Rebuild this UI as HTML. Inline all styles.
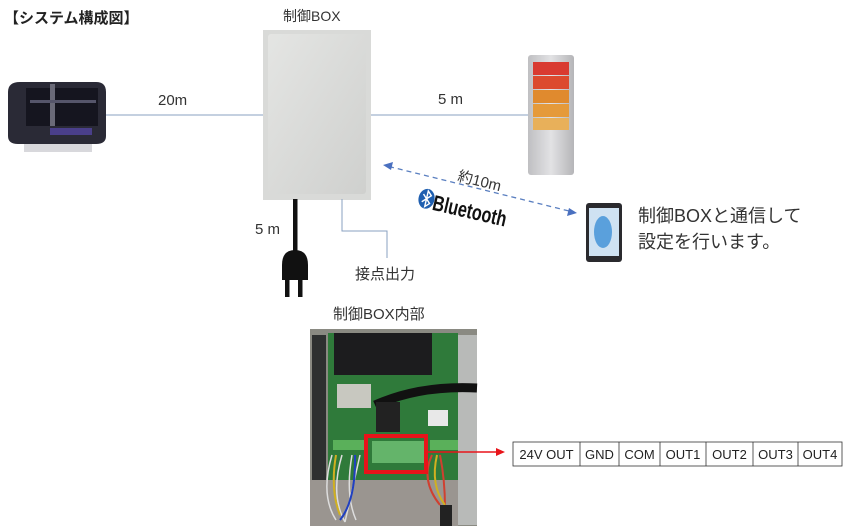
<!DOCTYPE html>
<html><head><meta charset="utf-8"><style>
body{margin:0;background:#fff;width:850px;height:526px;overflow:hidden;font-family:"Liberation Sans","Noto Sans CJK JP",sans-serif}
</style></head><body>
<svg width="850" height="526" viewBox="0 0 850 526" xmlns="http://www.w3.org/2000/svg" style="font-family:'Liberation Sans','Noto Sans CJK JP',sans-serif">
<defs>
<linearGradient id="box" x1="0" y1="0" x2="1" y2="1"><stop offset="0" stop-color="#e4e5e3"/><stop offset="1" stop-color="#cfd0ce"/></linearGradient>
<linearGradient id="tw" x1="0" y1="0" x2="1" y2="0"><stop offset="0" stop-color="#bfbfc2"/><stop offset=".5" stop-color="#e2e2e4"/><stop offset="1" stop-color="#b5b5b8"/></linearGradient>
</defs>
<text x="4" y="23" font-size="15" font-weight="bold" fill="#222">【システム構成図】</text>
<text x="283" y="21" font-size="14" fill="#333">制御BOX</text>
<!-- lidar -->
<path d="M8 92 Q8 82 20 82 L96 82 Q106 82 106 92 L106 136 Q106 144 96 144 L18 144 Q8 144 8 136 Z" fill="#2a2a36"/>
<rect x="26" y="88" width="72" height="38" fill="#15151f"/>
<rect x="50" y="84" width="5" height="42" fill="#6a6a78"/>
<rect x="30" y="100" width="66" height="3" fill="#55556a"/>
<rect x="50" y="128" width="42" height="7" fill="#4a3f8a"/>
<rect x="24" y="144" width="68" height="8" fill="#d8d8dc"/>
<!-- lines -->
<line x1="106" y1="115" x2="263" y2="115" stroke="#8aa0c0" stroke-width="1"/>
<line x1="370" y1="115" x2="528" y2="115" stroke="#8aa0c0" stroke-width="1"/>
<text x="158" y="105" font-size="15" fill="#333">20m</text>
<text x="438" y="104" font-size="15" fill="#333">5 m</text>
<!-- box -->
<rect x="263" y="30" width="108" height="170" fill="#d9dad8"/>
<rect x="268" y="34" width="98" height="160" rx="3" fill="url(#box)"/>
<!-- tower -->
<rect x="528" y="55" width="46" height="120" rx="3" fill="url(#tw)"/>
<rect x="533" y="62" width="36" height="13" fill="#d93a30"/>
<rect x="533" y="76" width="36" height="13" fill="#dc4a2e"/>
<rect x="533" y="90" width="36" height="13" fill="#e08a2e"/>
<rect x="533" y="104" width="36" height="13" fill="#e59a3a"/>
<rect x="533" y="118" width="36" height="12" fill="#e8b05a"/>
<!-- bluetooth arrow -->
<line x1="389" y1="166.5" x2="571" y2="211.5" stroke="#5a7fc0" stroke-width="1.3" stroke-dasharray="5,4"/>
<polygon points="383,165 393,162 391,170" fill="#4a70c0"/>
<polygon points="577,213 567,216 569,208" fill="#4a70c0"/>
<g transform="translate(460,168) rotate(14)"><text x="0" y="13" font-size="15" fill="#333">約10m</text></g>
<g transform="translate(420,187) rotate(13)">
<ellipse cx="9" cy="10" rx="8" ry="10" fill="#1f5fb0"/>
<path d="M5 6 L13 14 L9 18 L9 2 L13 6 L5 14" stroke="#fff" stroke-width="1.4" fill="none"/>
<text x="19" y="17" font-size="19" font-weight="bold" fill="#111" transform="scale(0.85,1.15)">Bluetooth</text>
</g>
<!-- tablet -->
<rect x="586" y="203" width="36" height="59" rx="3" fill="#2a2a2e"/>
<rect x="589" y="208" width="30" height="48" fill="#cfe2f2"/>
<ellipse cx="603" cy="232" rx="9" ry="16" fill="#5aa0dc"/>
<text x="638" y="222" font-size="18" fill="#333">制御BOXと通信して</text>
<text x="638" y="248" font-size="18" fill="#333">設定を行います。</text>
<!-- power cord -->
<rect x="293" y="199" width="4.5" height="55" fill="#111"/>
<path d="M282 280 L282 265 Q282 250 295 250 Q308 250 308 265 L308 280 Z" fill="#111"/>
<rect x="285" y="279" width="4.5" height="18" fill="#111"/>
<rect x="298" y="279" width="4.5" height="18" fill="#111"/>
<text x="255" y="234" font-size="15" fill="#333">5 m</text>
<!-- contact -->
<polyline points="342,199 342,231 387,231 387,258" fill="none" stroke="#8aa0c0" stroke-width="1"/>
<text x="355" y="279" font-size="15" fill="#333">接点出力</text>
<!-- inside -->
<text x="333" y="319" font-size="15" fill="#333">制御BOX内部</text>
<rect x="310" y="329" width="167" height="197" fill="#8a8a82"/>
<rect x="312" y="335" width="14" height="150" fill="#2e3030"/>
<rect x="328" y="333" width="130" height="170" fill="#2f7a3a"/>
<rect x="334" y="333" width="98" height="42" fill="#1c1c1e"/>
<rect x="458" y="335" width="19" height="190" fill="#b8bab8"/>
<rect x="337" y="384" width="34" height="24" fill="#c8c8c0"/>
<path d="M375 405 Q420 385 477 388" stroke="#111" stroke-width="9" fill="none"/>
<rect x="376" y="402" width="24" height="30" fill="#222"/>
<rect x="428" y="410" width="20" height="16" fill="#e8e8e8"/>
<rect x="333" y="440" width="32" height="10" fill="#5ab05a"/>
<rect x="430" y="440" width="28" height="10" fill="#5ab05a"/>
<rect x="372" y="441" width="52" height="22" fill="#64b46a"/>
<rect x="310" y="480" width="148" height="46" fill="#9a9590"/>
<path d="M332 455 Q320 495 336 520 M342 455 Q330 495 345 522 M352 455 Q345 495 356 520 M360 455 Q350 500 345 522" stroke="#ddd" stroke-width="1.5" fill="none"/>
<path d="M336 455 Q330 490 340 515" stroke="#d0b020" stroke-width="2" fill="none"/>
<path d="M355 455 Q356 500 340 520" stroke="#2040c0" stroke-width="2" fill="none"/>
<path d="M432 455 Q420 480 440 505 M440 455 Q445 480 445 508" stroke="#d04030" stroke-width="2" fill="none"/>
<path d="M437 455 Q430 485 445 505" stroke="#d0b020" stroke-width="2" fill="none"/>
<rect x="440" y="505" width="12" height="21" fill="#222"/>
<rect x="366" y="436" width="60" height="36" fill="none" stroke="#e8141a" stroke-width="4"/>
<line x1="427" y1="452" x2="498" y2="452" stroke="#e8141a" stroke-width="1.5"/>
<polygon points="505,452 496,448 496,456" fill="#e8141a"/>
<!-- table -->
<g font-size="13" fill="#222" text-anchor="middle">
<rect x="513" y="442" width="329" height="24" fill="#fff" stroke="#333" stroke-width="0.8"/>
<line x1="580" y1="442" x2="580" y2="466" stroke="#333" stroke-width="0.8"/>
<line x1="619" y1="442" x2="619" y2="466" stroke="#333" stroke-width="0.8"/>
<line x1="660" y1="442" x2="660" y2="466" stroke="#333" stroke-width="0.8"/>
<line x1="706" y1="442" x2="706" y2="466" stroke="#333" stroke-width="0.8"/>
<line x1="753" y1="442" x2="753" y2="466" stroke="#333" stroke-width="0.8"/>
<line x1="798" y1="442" x2="798" y2="466" stroke="#333" stroke-width="0.8"/>
<text x="546.5" y="459">24V OUT</text>
<text x="599.5" y="459">GND</text>
<text x="639.5" y="459">COM</text>
<text x="683" y="459">OUT1</text>
<text x="729.5" y="459">OUT2</text>
<text x="775.5" y="459">OUT3</text>
<text x="820" y="459">OUT4</text>
</g>
</svg>
</body></html>
